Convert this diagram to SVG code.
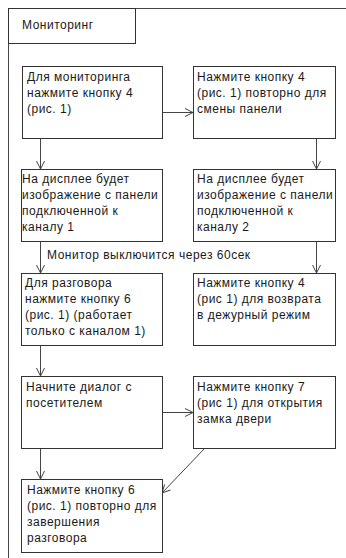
<svg xmlns="http://www.w3.org/2000/svg" width="346" height="558" viewBox="0 0 346 558">
<style>
rect.b{fill:#fff;stroke:#333;stroke-width:1}
text{font-family:"Liberation Sans",Arial,sans-serif;font-size:12px;letter-spacing:0.5px;fill:#1a1a1a}
.c line,.c path{stroke:#444;stroke-width:1;fill:none}
</style>
<defs>
<marker id="a" markerWidth="10" markerHeight="10" refX="9" refY="5" orient="auto" markerUnits="userSpaceOnUse">
<path d="M1,1 L9,5 L1,9" fill="none" stroke="#444" stroke-width="1"/>
</marker>
</defs>
<rect width="346" height="558" fill="#fff"/>
<g id="frame">
<line x1="8.5" y1="8" x2="8.5" y2="558" stroke="#444"/>
<line x1="8" y1="8.5" x2="346" y2="8.5" stroke="#444"/>
</g>
<g id="title">
<rect class="b" x="8.5" y="8.5" width="127" height="35"/>
<text x="22" y="29">Мониторинг</text>
</g>
<g class="c" id="connectors">
<line x1="162" y1="112.5" x2="193" y2="112.5" marker-end="url(#a)"/>
<line x1="40.5" y1="138" x2="40.5" y2="169" marker-end="url(#a)"/>
<line x1="316.5" y1="138" x2="316.5" y2="169" marker-end="url(#a)"/>
<line x1="40.5" y1="241" x2="40.5" y2="273" marker-end="url(#a)"/>
<line x1="316.5" y1="241" x2="316.5" y2="273" marker-end="url(#a)"/>
<line x1="40.5" y1="345" x2="40.5" y2="376" marker-end="url(#a)"/>
<line x1="162" y1="412.5" x2="193" y2="412.5" marker-end="url(#a)"/>
<line x1="40.5" y1="448" x2="40.5" y2="479" marker-end="url(#a)"/>
<line x1="205" y1="448" x2="162" y2="493" marker-end="url(#a)"/>
<text x="47" y="259">Монитор выключится через 60сек</text>
</g>
<g id="n1">
<rect class="b" x="22.5" y="66.5" width="140" height="72"/>
<text x="27" y="81">Для мониторинга</text>
<text x="27" y="97">нажмите кнопку 4</text>
<text x="27" y="113">(рис. 1)</text>
</g>
<g id="n2">
<rect class="b" x="193.5" y="66.5" width="142" height="72"/>
<text x="197" y="81">Нажмите кнопку 4</text>
<text x="197" y="97">(рис. 1) повторно для</text>
<text x="197" y="113">смены панели</text>
</g>
<g id="n3">
<rect class="b" x="21.5" y="169.5" width="141" height="72"/>
<text x="22" y="183">На дисплее будет</text>
<text x="22" y="199">изображение с панели</text>
<text x="22" y="215">подключенной к</text>
<text x="22" y="231">каналу 1</text>
</g>
<g id="n4">
<rect class="b" x="193.5" y="169.5" width="142" height="72"/>
<text x="197" y="183">На дисплее будет</text>
<text x="197" y="199">изображение с панели</text>
<text x="197" y="215">подключенной к</text>
<text x="197" y="231">каналу 2</text>
</g>
<g id="n5">
<rect class="b" x="21.5" y="273.5" width="141" height="72"/>
<text x="25" y="287">Для разговора</text>
<text x="25" y="303">нажмите кнопку 6</text>
<text x="25" y="319">(рис. 1) (работает</text>
<text x="25" y="335">только с каналом 1)</text>
</g>
<g id="n6">
<rect class="b" x="193.5" y="273.5" width="142" height="72"/>
<text x="197" y="287">Нажмите кнопку 4</text>
<text x="197" y="303">(рис  1) для возврата</text>
<text x="197" y="319">в дежурный режим</text>
</g>
<g id="n7">
<rect class="b" x="21.5" y="376.5" width="141" height="72"/>
<text x="26" y="391">Начните диалог с</text>
<text x="26" y="407">посетителем</text>
</g>
<g id="n8">
<rect class="b" x="193.5" y="376.5" width="142" height="72"/>
<text x="197" y="391">Нажмите кнопку 7</text>
<text x="197" y="407">(рис  1) для открытия</text>
<text x="197" y="423">замка двери</text>
</g>
<g id="n9">
<rect class="b" x="21.5" y="479.5" width="141" height="73"/>
<text x="27" y="494">Нажмите кнопку 6</text>
<text x="27" y="510">(рис. 1) повторно для</text>
<text x="27" y="526">завершения</text>
<text x="27" y="542">разговора</text>
</g>
</svg>
